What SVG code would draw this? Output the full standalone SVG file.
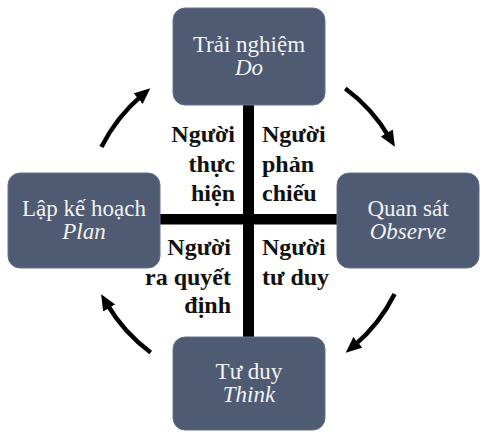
<svg xmlns="http://www.w3.org/2000/svg" width="480" height="432" viewBox="0 0 480 432">
<style>
.box{fill:#4e5b73;stroke:#66738a;stroke-width:1}
.bt{font-family:'Liberation Serif','DejaVu Serif',serif;font-size:23px;fill:#f2f2f2;text-anchor:middle}
.it{font-style:italic}
.q{font-family:'Liberation Serif','DejaVu Serif',serif;font-size:24px;font-weight:bold;fill:#111}
.r{text-anchor:end}
.arc{fill:none;stroke:#000;stroke-width:4.5;marker-end:url(#ah)}
</style>
<defs>
<marker id="ah" markerUnits="userSpaceOnUse" markerWidth="16" markerHeight="14" viewBox="0 0 16 14" refX="5" refY="7" orient="auto">
<path d="M0,0 L16,7 L0,14 z" fill="#000"/>
</marker>
</defs>
<g id="connectors">
<rect x="243" y="104" width="11" height="234" fill="#000"/>
<rect x="159" y="214" width="179" height="10.5" fill="#000"/>
<path class="arc" d="M101.4,147.1 A164,164 0 0 1 141.9,95.4"/>
<path class="arc" d="M345.3,88.5 A164,164 0 0 1 389.3,137.3"/>
<path class="arc" d="M394.6,293.9 A164,164 0 0 1 354.1,345.6"/>
<path class="arc" d="M150.7,352.5 A164,164 0 0 1 106.7,303.7"/>
</g>
<g id="node-do">
<rect class="box" x="173" y="8" width="152" height="97" rx="12"/>
<text class="bt" x="249" y="52">Trải nghiệm</text>
<text class="bt it" x="249" y="75">Do</text>
</g>
<g id="node-plan">
<rect class="box" x="8" y="173" width="152" height="95" rx="12"/>
<text class="bt" x="84" y="216">Lập kế hoạch</text>
<text class="bt it" x="84" y="239">Plan</text>
</g>
<g id="node-observe">
<rect class="box" x="337" y="173" width="142" height="95" rx="12"/>
<text class="bt" x="408" y="216">Quan sát</text>
<text class="bt it" x="408" y="239">Observe</text>
</g>
<g id="node-think">
<rect class="box" x="173" y="337" width="152" height="93" rx="12"/>
<text class="bt" x="249" y="379">Tư duy</text>
<text class="bt it" x="249" y="402">Think</text>
</g>
<g id="quad-doer">
<text class="q r" x="235" y="142">Người</text>
<text class="q r" x="235" y="172">thực</text>
<text class="q r" x="235" y="201">hiện</text>
</g>
<g id="quad-reflector">
<text class="q" x="262" y="142">Người</text>
<text class="q" x="262" y="172">phản</text>
<text class="q" x="262" y="201">chiếu</text>
</g>
<g id="quad-decider">
<text class="q r" x="231" y="255">Người</text>
<text class="q r" x="231" y="285">ra quyết</text>
<text class="q r" x="231" y="313">định</text>
</g>
<g id="quad-thinker">
<text class="q" x="262" y="255">Người</text>
<text class="q" x="262" y="285">tư duy</text>
</g>
</svg>
